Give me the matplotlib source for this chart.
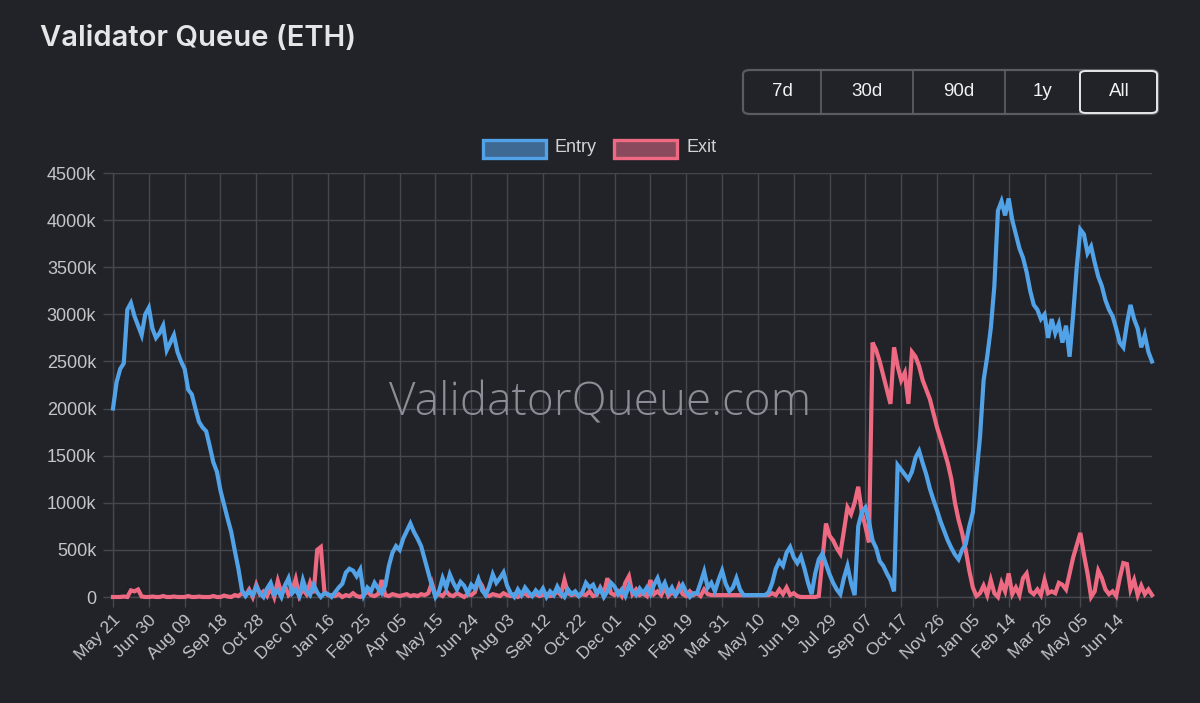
import matplotlib
matplotlib.use("Agg")
import matplotlib.pyplot as plt
import pandas as pd
from matplotlib.patches import FancyBboxPatch, Rectangle
from matplotlib.lines import Line2D

# ---------------- data (thousands of ETH, one reading every 4 days) ----------------
start_date = "2023-05-21"
step_days = 4

entry = [
    2000, 2280, 2420, 2480,
    3050, 3120, 2980, 2880, 2780, 3000, 3070,
    2850, 2750, 2800, 2880, 2620, 2700, 2780, 2600, 2500, 2420,
    2200, 2150, 2000, 1860, 1800, 1760, 1600, 1430, 1330, 1130, 980, 830, 690, 490, 300, 70,
    10, 60, 20, 110, 40, 0, 90, 150, 30, 70, 0, 120, 200, 40, 80, 10, 180, 60, 20, 130, 50, 0, 40,
    30, 0, 50, 100, 140,
    260, 300, 280, 220, 290,
    20, 100, 60, 150, 90, 40, 120,
    330, 470, 540, 500, 620, 700, 780, 690, 620, 540, 400, 260, 120, 0,
    60, 200, 100, 240, 150, 80, 160, 120, 40, 130, 90, 190, 70, 20, 110, 240, 150, 200, 260, 120,
    40, 0, 80, 20, 100, 50, 10, 70, 30, 90, 0, 60, 20, 110, 40, 0, 80, 30, 60, 10,
    50, 150, 100, 130, 40, 90, 0, 60, 150, 110, 30, 80, 10, 120, 60, 20, 90, 40, 100,
    30, 130, 200, 80, 150, 40, 100, 20, 70, 130, 50, 0, 40,
    40, 150, 270, 100, 150, 60, 180, 280, 140, 60, 100, 200, 80, 20, 20, 20, 20, 20, 20, 20,
    50, 150, 300, 380, 330, 470, 530, 420, 360, 430, 300, 150, 30, 250, 400, 460, 350, 240, 150, 80,
    30, 200, 330, 150, 20, 750, 900, 950,
    800, 600, 520, 380, 330, 250, 180, 60, 1400, 1350, 1300, 1250, 1330, 1480, 1550, 1420, 1300, 1150, 1030, 920,
    800, 700, 600, 520, 450, 400, 500, 560, 750, 900, 1300, 1700, 2300, 2550, 2850, 3300,
    4100, 4200, 4050, 4230, 4000, 3850, 3700, 3600, 3450, 3250, 3100, 3050, 2950, 3000, 2750, 2950,
    2800, 2900, 2700, 2880, 2550, 3000, 3500, 3900, 3850, 3650, 3720, 3550, 3400, 3300, 3150, 3050,
    2980, 2850, 2700, 2650, 2900, 3100, 2950, 2850, 2650, 2780, 2600, 2500,
]

exit_ = [
    0, 0, 0, 5, 0, 70, 60, 80, 5, 0, 0, 5, 0, 0, 10, 0, 0, 5, 0, 0, 0, 10, 0, 0, 5, 0, 0, 0, 10, 0,
    0, 15, 5, 0, 20, 10, 40,
    20, 80, 0, 130, 30, 60, 10, 100, 0, 170, 40, 120, 20, 60, 190, 10, 80, 30, 150, 40, 500, 530, 60, 20,
    20, 10, 30, 0, 20, 10, 40, 10, 0, 20, 60, 20, 10, 30, 180, 20, 10, 30, 20, 10, 20, 30, 10, 20, 10,
    30, 20, 40, 150, 20,
    30, 10, 60, 20, 10, 40, 20, 0, 30, 20, 50, 180, 120, 20, 10, 30, 20, 10, 40, 20, 10, 30, 0, 20, 40,
    10, 20, 30, 10, 20, 30, 10, 20, 60, 20, 180, 40, 20, 30, 10,
    30, 20, 60, 10, 20, 100, 30, 200, 40, 20, 60, 10, 150, 220, 30, 80, 20, 40, 10, 180, 30, 60, 20, 100,
    10, 50, 20, 120, 30, 10, 60, 20, 40, 10, 80, 30,
    20, 20, 20, 20, 20, 20, 20, 20, 20, 20, 20, 20, 20, 20, 20, 20,
    20, 40, 20, 80, 30, 100, 20, 40, 10, 0, 0, 0, 0, 0, 10,
    400, 780, 650, 600, 520, 460, 700, 950, 880, 1000, 1170, 900, 750, 580,
    2700, 2620, 2500, 2350, 2200, 2050, 2650, 2450, 2300, 2380, 2050, 2600, 2550, 2450, 2300, 2200, 2100,
    1950, 1800, 1680, 1550, 1420, 1250, 1000, 820, 680, 500, 280, 100, 10,
    40, 120, 20, 180, 40, 0, 150, 60, 250, 30, 100, 20, 200, 250, 60, 30, 80, 20, 180, 40,
    60, 40, 150, 130, 80, 250, 420, 550, 680, 450, 250, 0, 60, 280, 200, 80, 30, 60, 10, 200,
    360, 350, 80, 180, 20, 120, 30, 80, 20,
]

assert len(entry) == len(exit_), (len(entry), len(exit_))

y_ticks = list(range(0, 4501, 500))
buttons = ["7d", "30d", "90d", "1y", "All"]
series_names = ["Entry", "Exit"]

# ---------------- style ----------------
W, H = 1200, 703
BG = "#212328"
GRID = "#45474d"
LABEL = "#c4c5c9"
ENTRY_C = "#52a2e8"
EXIT_C = "#ee6a83"
ENTRY_FILL = "#3e6993"
EXIT_FILL = "#8a4a5d"

fig = plt.figure(figsize=(12, 7.03), dpi=100)
fig.patch.set_facecolor(BG)


def fx(px):
    return px / W


def fy(py):
    return 1 - py / H


L, R, T, B = 113, 1152, 173, 597
ax = fig.add_axes([fx(L), fy(B), (R - L) / W, (B - T) / H])
ax.set_facecolor(BG)

dates = pd.date_range(start_date, periods=len(entry), freq=f"{step_days}D")

ax.plot(dates, exit_, color=EXIT_C, lw=3.0, clip_on=False, zorder=3,
        solid_joinstyle="miter")
ax.plot(dates, entry, color=ENTRY_C, lw=3.0, clip_on=False, zorder=4,
        solid_joinstyle="miter")

ax.set_xlim(dates[0], dates[-1])
ax.set_ylim(0, 4500)

tick_dates = dates[:len(dates) - 10:10]
ax.set_xticks(tick_dates)
ax.set_xticklabels([d.strftime("%b %d") for d in tick_dates], rotation=45,
                   ha="right", rotation_mode="anchor")
ax.set_yticks(y_ticks)
ax.set_yticklabels([("0" if v == 0 else f"{v}k") for v in y_ticks])

ax.grid(True, color=GRID, lw=1.0, zorder=0)
ax.set_axisbelow(True)
for s in ["top", "right"]:
    ax.spines[s].set_visible(False)
for s in ["left", "bottom"]:
    ax.spines[s].set_color(GRID)
    ax.spines[s].set_linewidth(1.0)

ax.tick_params(axis="both", length=7, width=1.0, color=GRID, labelcolor=LABEL)
ax.tick_params(axis="y", labelsize=13, pad=5)
ax.tick_params(axis="x", labelsize=12.5, pad=4)
for lab in ax.get_xticklabels() + ax.get_yticklabels():
    lab.set_family(["Liberation Sans", "DejaVu Sans"])

# watermark
fig.text(fx(600), fy(404), "ValidatorQueue.com", ha="center", va="center",
         fontsize=33, color="#8b8d97", family=["Open Sans", "DejaVu Sans"],
         fontweight="light", zorder=1)

# title
fig.text(fx(40), fy(39), "Validator Queue (ETH)", ha="left", va="center",
         fontsize=21, color="#e6e6e8", family=["Inter", "DejaVu Sans"],
         fontweight="semibold")

# button group
gx0, gx1, gy0, gy1 = 743, 1158, 70, 114
group = FancyBboxPatch((fx(gx0), fy(gy1)), fx(gx1) - fx(gx0), fy(gy0) - fy(gy1),
                       boxstyle="round,pad=0,rounding_size=0.006",
                       transform=fig.transFigure, fc=BG, ec="#5a5c62", lw=1.6,
                       zorder=5)
fig.add_artist(group)
edges = [743, 821, 913, 1005, 1080, 1158]
for xe in edges[1:-1]:
    fig.add_artist(Line2D([fx(xe), fx(xe)], [fy(gy1 - 1), fy(gy0 + 1)],
                          transform=fig.transFigure, color="#5a5c62", lw=1.3,
                          zorder=6))
active = FancyBboxPatch((fx(1080), fy(gy1 - 1)), fx(1157) - fx(1080),
                        fy(gy0 + 1) - fy(gy1 - 1),
                        boxstyle="round,pad=0,rounding_size=0.005",
                        transform=fig.transFigure, fc=BG, ec="#e8e8ea", lw=1.4,
                        zorder=7)
fig.add_artist(active)
for i, name in enumerate(buttons):
    cx = (edges[i] + edges[i + 1]) / 2
    fig.text(fx(cx), fy(92), name, ha="center", va="center", fontsize=13.5,
             color="#f2f2f4", family=["Liberation Sans", "DejaVu Sans"], zorder=8)

# legend
legend_items = [
    (series_names[0], 481, ENTRY_C, ENTRY_FILL),
    (series_names[1], 612, EXIT_C, EXIT_FILL),
]
for name, x0, ec, fc in legend_items:
    fig.add_artist(Rectangle((fx(x0 + 1.5), fy(157.5)), (66 - 3) / W, (21 - 3) / H,
                             transform=fig.transFigure, fc=fc, ec=ec, lw=2.4,
                             zorder=5))
    fig.text(fx(x0 + 74), fy(147.5), name, ha="left", va="center", fontsize=13,
             color="#d2d3d6", family=["Liberation Sans", "DejaVu Sans"])

fig.savefig("out.png", dpi=100, facecolor=BG)
